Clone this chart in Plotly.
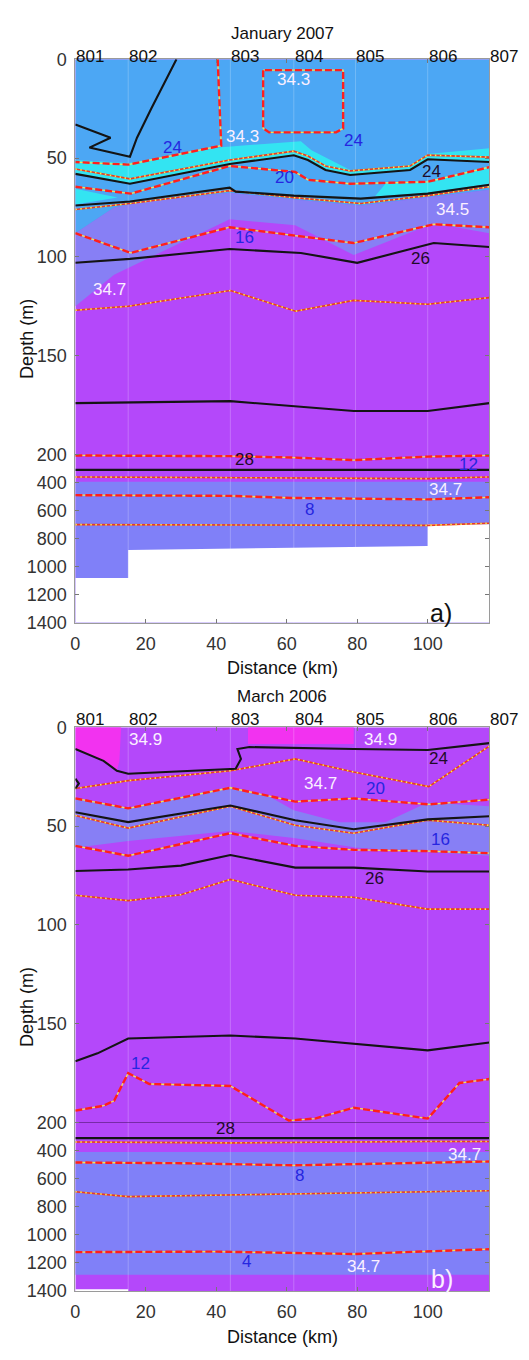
import plotly.graph_objects as go

# ---------------- scale helpers (depth axis: 0-200 m stretched, 200-1400 m compressed)
K_DEEP = 0.071


def ty(d):
    return d if d <= 200 else 200 + (d - 200) * K_DEEP


def tys(ds):
    return [ty(v) for v in ds]


# ---------------- common data
STATIONS_KM = [0, 15, 44, 62, 79.5, 100, 117.5]
STATION_LABELS = ["801", "802", "803", "804", "805", "806", "807"]
X_TICKS = [0, 20, 40, 60, 80, 100]
DEPTH_TICKS = [0, 50, 100, 150, 200, 400, 600, 800, 1000, 1200, 1400]
X_MAX = 117.5
D_MAX = 1400

COL_LIGHT = "#4ca7f4"
COL_CYAN = "#33e4f2"
COL_PERI = "#877ff5"
COL_PERI_DEEP = "#8080f8"
COL_PURPLE = "#b448fa"
COL_MAGENTA = "#f232f0"

# ---------------- panel a) January 2007
a_peri_up_x = [0, 11, 20, 43.8, 62, 81, 100, 117.5]
a_peri_up_d = [88, 75, 72, 67.5, 71, 74, 70, 66]
a_purple_top_x = [0, 11, 43.8, 62.4, 79, 101.7, 117.5]
a_purple_top_d = [125, 109, 81, 84, 99, 83, 88]
a_cyan_up_x = [0, 15, 41.4, 64, 67, 78, 95, 100, 117.5]
a_cyan_up_d = [51, 52.5, 44.5, 41.5, 46, 56, 53.5, 48, 45]
a_cyan2_x = [88, 100, 117.5, 117.5, 100, 85]
a_cyan2_d = [63, 61.5, 54, 63, 67.5, 69.5]
a_cyan3_x = [0, 12, 0]
a_cyan3_d = [65.5, 70, 73.5]
a_peri_deep_top = 395
a_mask_x = [0, 15, 15, 100, 100, 117.5, 117.5, 0]
a_mask_d = [1080, 1080, 880, 852, 697, 697, 1400, 1400]

a_rho1_x = [0, 10, 4, 15.5, 17.5, 21.6, 28.7]
a_rho1_d = [33, 39.7, 44.7, 49.3, 39.7, 24.8, 0]
a_rho2_x = [0, 15.5, 43.8, 62, 66, 71, 78, 95, 100, 117.5]
a_rho2_d = [58, 63, 53, 48.6, 51, 56, 58.6, 56, 50.6, 52]
a_rho3_x = [0, 15.5, 43.8, 45.5, 62, 81, 100, 117.5]
a_rho3_d = [74, 72, 65, 67, 69, 70.5, 68, 63.5]
a_rho4_x = [0, 15.5, 43.8, 64, 80, 101.7, 117.5]
a_rho4_d = [103, 101, 96, 98, 103, 93, 95]
a_rho5_x = [0, 44, 79, 100, 117.5]
a_rho5_d = [174, 173, 178, 178, 174]
a_rho6_x = [0, 60, 117.5]
a_rho6_d = [310, 312, 310]

a_t24a_x = [40.4, 41.4, 15, 0]
a_t24a_d = [0, 43.7, 53.3, 52]
a_t24b_x = [53.3, 53.3, 55, 74, 76, 76, 53.3]
a_t24b_d = [5.5, 35, 37, 37, 35, 5.5, 5.5]
a_t20_x = [0, 15.7, 43.8, 62.4, 66, 78, 100, 117.5]
a_t20_d = [64.5, 68, 54, 57, 61, 63, 62, 54.6]
a_t16_x = [0, 15.7, 43.8, 79, 101.7, 117.5]
a_t16_d = [88, 98, 85, 93, 83.5, 85]
a_t12_x = [0, 44, 62, 79, 100, 117.5]
a_t12_d = [207, 212, 222, 240, 215, 207]
a_t8_x = [0, 44, 62, 100, 117.5]
a_t8_d = [490, 495, 510, 520, 505]

a_s343_x = [0, 15.5, 43.8, 62, 66, 71, 78, 95, 100, 117.5]
a_s343_d = [55.5, 60.5, 51, 46.5, 49, 54, 56.5, 54, 48.5, 49.5]
a_s345_x = [0, 15.5, 43.8, 62, 81, 100, 117.5]
a_s345_d = [76, 73, 66.5, 70, 73, 69, 64.5]
a_s347a_x = [0, 15, 44, 62.5, 79, 100, 117.5]
a_s347a_d = [127, 125, 117, 127.5, 122, 124, 120.6]
a_s347b_x = [0, 44, 62, 100, 117.5]
a_s347b_d = [360, 365, 372, 372, 360]
a_s346_x = [0, 100, 117.5]
a_s346_d = [700, 705, 690]

a_labels = [
    ("34.3", 62, 10, "w"), ("34.3", 47.5, 39, "w"), ("24", 27.5, 44.5, "b"),
    ("24", 79, 41, "b"), ("24", 101, 57, "k"), ("20", 59.5, 59.6, "b"),
    ("34.5", 107, 76, "w"), ("16", 48, 90, "b"), ("26", 98, 101, "k"),
    ("34.7", 9.7, 116.7, "w"), ("28", 48, 236, "k"), ("12", 111.5, 271, "b"),
    ("34.7", 105, 448, "w"), ("8", 66.5, 590, "b"),
]

# ---------------- panel b) March 2006
b_peri_up_x = [0, 15, 30, 44, 55, 62, 75, 88, 100, 117.5]
b_peri_up_d = [36, 41, 35, 30, 35, 42, 48, 48, 38, 40]
b_peri_lo_x = [0, 15, 44, 62, 80, 100, 117.5]
b_peri_lo_d = [61, 57.5, 52.5, 56, 61, 63, 65]
b_peri_deep_top = 410
b_purple_bottom_top = 1285
b_mag1_x = [0, 13, 12.5, 11.8, 8, 0]
b_mag1_d = [0, 0, 17, 22, 17, 11]
b_mag2_x = [49, 79, 79, 49]
b_mag2_d = [0, 0, 8.5, 8.5]
b_white_x = [0, 15, 15, 0]
b_white_d = [1388, 1388, 1400, 1400]

b_rho24_x = [0, 8, 11.8, 15, 45.5, 47, 46, 49.4, 79, 100, 117.5]
b_rho24_d = [11, 17, 22, 23.5, 21, 16, 11, 10, 11, 11.5, 8]
b_rhos_x = [0, 1, 0]
b_rhos_d = [26, 28.5, 31]
b_rho25_x = [0, 15, 44, 62.4, 79, 100, 117.5]
b_rho25_d = [43, 48, 39.6, 47, 51.6, 46.6, 45]
b_rho26_x = [0, 15, 30, 44, 62.4, 79, 100, 117.5]
b_rho26_d = [72.7, 72, 70, 64.6, 71, 71, 73, 73]
b_rho27_x = [0, 6.3, 15, 44, 62.4, 100, 117.5]
b_rho27_d = [169, 165, 157.5, 156, 157.5, 163.5, 159.5]
b_rho28_x = [0, 117.5]
b_rho28_d = [311, 311]
b_break_x = [0, 117.5]
b_break_d = [200, 200]

b_t20_x = [0, 15, 44, 62.4, 79, 100.3, 117.5]
b_t20_d = [36, 41, 30.6, 37.6, 36, 39, 36.6]
b_t16_x = [0, 15, 44, 62.4, 79, 100.3, 117.5]
b_t16_d = [60, 65, 53.6, 60, 62, 62.7, 63.7]
b_t12_x = [0, 8, 11, 15, 21, 44, 60.6, 68, 79, 100, 107, 109, 117.5]
b_t12_d = [194, 191.5, 189, 175, 180.5, 181.5, 199, 198, 192.5, 198, 184, 180, 178]
b_t8_x = [0, 30, 62, 90, 117.5]
b_t8_d = [485, 490, 505, 490, 478]
b_t4_x = [0, 40, 79, 117.5]
b_t4_d = [1124, 1120, 1137, 1103]

b_s347a_x = [0, 15, 44, 62.4, 79, 100.3, 117.5]
b_s347a_d = [31, 27, 22, 16, 22.6, 30, 9.5]
b_s346_x = [0, 15, 44, 62.4, 79, 100, 117.5]
b_s346_d = [44.6, 51, 40, 49.6, 53.6, 47, 49.6]
b_s347b_x = [0, 15, 30, 44, 62.4, 79, 100, 117.5]
b_s347b_d = [85, 87.7, 84.7, 77, 85, 86, 92, 92]
b_s347c_x = [0, 44, 100, 117.5]
b_s347c_d = [339, 345, 335, 335]
b_s_deep_x = [0, 15, 60, 117.5]
b_s_deep_d = [693, 728, 710, 686]

b_labels = [
    ("34.9", 20, 6, "w"), ("34.9", 86.5, 6, "w"), ("24", 103, 15.7, "k"),
    ("34.7", 69.5, 28.6, "w"), ("20", 85.3, 31, "b"), ("16", 103.5, 57, "b"),
    ("26", 85, 76.7, "k"), ("12", 18.5, 170, "b"), ("28", 42.5, 242, "k"),
    ("34.7", 110.5, 429, "w"), ("8", 63.5, 575, "b"), ("4", 48.7, 1193, "b"),
    ("34.7", 81.7, 1228, "w"),
]

LABEL_COLORS = {"w": "#fbf0ff", "b": "#2626e0", "k": "#1e0a28"}
FONT = "Liberation Sans, Arial, sans-serif"

fig = go.Figure()


def axes(ax):
    return dict(xaxis="x" + ax, yaxis="y" + ax)


def poly(xs, ds, color, ax):
    fig.add_trace(go.Scatter(x=list(xs) + [xs[0]], y=tys(list(ds) + [ds[0]]),
                             mode="lines", fill="toself", fillcolor=color,
                             line=dict(width=0, color=color), hoverinfo="skip",
                             showlegend=False, **axes(ax)))


def band(ux, ud, lx, ld, color, ax):
    poly(list(ux) + list(lx)[::-1], list(ud) + list(ld)[::-1], color, ax)


def rect(d0, d1, color, ax, x0=0, x1=X_MAX):
    poly([x0, x1, x1, x0], [d0, d0, d1, d1], color, ax)


def line(xs, ds, color, width, ax, dash="solid"):
    fig.add_trace(go.Scatter(x=xs, y=tys(ds), mode="lines",
                             line=dict(color=color, width=width, dash=dash),
                             hoverinfo="skip", showlegend=False, **axes(ax)))


def black(xs, ds, ax, width=2.1):
    line(xs, ds, "#141414", width, ax)


def temp(xs, ds, ax):
    line(xs, ds, "#f2e45a", 1.3, ax)
    line(xs, ds, "#ff1e1e", 2.4, ax, dash="7px,3px")


def sal(xs, ds, ax):
    line(xs, ds, "#ec3a22", 1.6, ax)
    line(xs, ds, "#f6f050", 1.6, ax, dash="1.5px,3.5px")


def station_lines(ax):
    for s in STATIONS_KM[1:-1]:
        line([s, s], [0, D_MAX], "rgba(255,255,255,0.22)", 1, ax)


# ---------- panel a fills
rect(0, D_MAX, COL_PURPLE, "")
rect(a_peri_deep_top, D_MAX, COL_PERI_DEEP, "")
band(a_peri_up_x, a_peri_up_d, a_purple_top_x, a_purple_top_d, COL_PERI, "")
band([0, X_MAX], [0, 0], a_peri_up_x, a_peri_up_d, COL_LIGHT, "")
band(a_cyan_up_x, a_cyan_up_d, a_rho2_x, a_rho2_d, COL_CYAN, "")
poly(a_cyan2_x, a_cyan2_d, COL_CYAN, "")
poly(a_cyan3_x, a_cyan3_d, COL_CYAN, "")
poly(a_mask_x, a_mask_d, "#ffffff", "")
station_lines("")
# ---------- panel a lines
sal(a_s343_x, a_s343_d, "")
sal(a_s345_x, a_s345_d, "")
sal(a_s347a_x, a_s347a_d, "")
sal(a_s347b_x, a_s347b_d, "")
sal(a_s346_x, a_s346_d, "")
temp(a_t24a_x, a_t24a_d, "")
temp(a_t24b_x, a_t24b_d, "")
temp(a_t20_x, a_t20_d, "")
temp(a_t16_x, a_t16_d, "")
temp(a_t12_x, a_t12_d, "")
temp(a_t8_x, a_t8_d, "")
for xs, ds in [(a_rho1_x, a_rho1_d), (a_rho2_x, a_rho2_d), (a_rho3_x, a_rho3_d),
               (a_rho4_x, a_rho4_d), (a_rho5_x, a_rho5_d), (a_rho6_x, a_rho6_d)]:
    black(xs, ds, "")

# ---------- panel b fills
rect(0, D_MAX, COL_PURPLE, "2")
rect(b_peri_deep_top, b_purple_bottom_top, COL_PERI_DEEP, "2")
band(b_peri_up_x, b_peri_up_d, b_peri_lo_x, b_peri_lo_d, COL_PERI, "2")
poly(b_mag1_x, b_mag1_d, COL_MAGENTA, "2")
poly(b_mag2_x, b_mag2_d, COL_MAGENTA, "2")
poly(b_white_x, b_white_d, "#ffffff", "2")
station_lines("2")
line(b_break_x, b_break_d, "rgba(70,20,100,0.7)", 0.8, "2")
# ---------- panel b lines
sal(b_s347a_x, b_s347a_d, "2")
sal(b_s346_x, b_s346_d, "2")
sal(b_s347b_x, b_s347b_d, "2")
sal(b_s347c_x, b_s347c_d, "2")
sal(b_s_deep_x, b_s_deep_d, "2")
temp(b_t20_x, b_t20_d, "2")
temp(b_t16_x, b_t16_d, "2")
temp(b_t12_x, b_t12_d, "2")
temp(b_t8_x, b_t8_d, "2")
temp(b_t4_x, b_t4_d, "2")
for xs, ds in [(b_rho24_x, b_rho24_d), (b_rhos_x, b_rhos_d), (b_rho25_x, b_rho25_d),
               (b_rho26_x, b_rho26_d), (b_rho27_x, b_rho27_d), (b_rho28_x, b_rho28_d)]:
    black(xs, ds, "2")

# ---------- layout
W, H = 529, 1360
X_DOM = [71 / W, 489 / W]
A_DOM = [1 - 622 / H, 1 - 50 / H]
B_DOM = [1 - 1300 / H, 1 - 728 / H]


def xaxis(dom_anchor):
    return dict(domain=X_DOM, range=[0, X_MAX], anchor=dom_anchor, tickvals=X_TICKS,
                ticks="inside", ticklen=4, tickcolor="#777", showline=True,
                linecolor="#9a9a9a", linewidth=1, mirror="ticks", showgrid=False,
                zeroline=False, tickfont=dict(size=18, color="#333", family=FONT),
                ticklabelstandoff=5)


def yaxis(dom, anchor):
    return dict(domain=dom, range=[ty(D_MAX), 0], anchor=anchor,
                tickvals=tys(DEPTH_TICKS), ticktext=[str(v) for v in DEPTH_TICKS],
                ticks="inside", ticklen=4, tickcolor="#777", showline=True,
                linecolor="#9a9a9a", linewidth=1, mirror="ticks", showgrid=False,
                zeroline=False, tickfont=dict(size=18, color="#333", family=FONT),
                ticklabelstandoff=4)


annotations = []


def pa(text, x, py, size=17, color="#111", xanchor="center", angle=0, xref="paper"):
    annotations.append(dict(text=text, x=x, y=1 - py / H, xref=xref, yref="paper",
                            showarrow=False, xanchor=xanchor, yanchor="middle",
                            textangle=angle, borderpad=0,
                            font=dict(size=size, color=color, family=FONT)))


for title, ty_px, st_px, dep_px, dist_px, xr in [("January 2007", 24, 47, 334, 668, "x"),
                                                 ("March 2006", 697, 720, 1012, 1347, "x2")]:
    pa(title, 280 / W, ty_px, size=17)
    for s, lab in zip(STATIONS_KM, STATION_LABELS):
        pa(lab, s, st_px, size=17, xanchor="left", xref=xr)
    pa("Depth (m)", 22 / W, dep_px, size=18, angle=-90)
    pa("Distance (km)", 280 / W, dist_px, size=18)

for labels, ax in [(a_labels, ""), (b_labels, "2")]:
    for text, x, d, c in labels:
        annotations.append(dict(text=text, x=x, y=ty(d), xref="x" + ax, yref="y" + ax,
                                showarrow=False, xanchor="center", yanchor="middle",
                                font=dict(size=17, color=LABEL_COLORS[c], family=FONT)))

annotations.append(dict(text="a)", x=103.8, y=ty(1328), xref="x", yref="y", showarrow=False,
                        font=dict(size=25, color="#111", family=FONT)))
annotations.append(dict(text="b)", x=104, y=ty(1318), xref="x2", yref="y2", showarrow=False,
                        font=dict(size=25, color="#fbf0ff", family=FONT)))

fig.update_layout(
    width=W, height=H, margin=dict(l=0, r=0, t=0, b=0),
    paper_bgcolor="white", plot_bgcolor="white", showlegend=False,
    xaxis=xaxis("y"), yaxis=yaxis(A_DOM, "x"),
    xaxis2=xaxis("y2"), yaxis2=yaxis(B_DOM, "x2"),
    annotations=annotations,
    font=dict(family=FONT),
)

fig.write_html(
    "out.html",
    config={"displayModeBar": False},
    post_script="document.body.style.margin='0';document.body.style.padding='0';"
                "document.documentElement.style.overflow='hidden';",
)
